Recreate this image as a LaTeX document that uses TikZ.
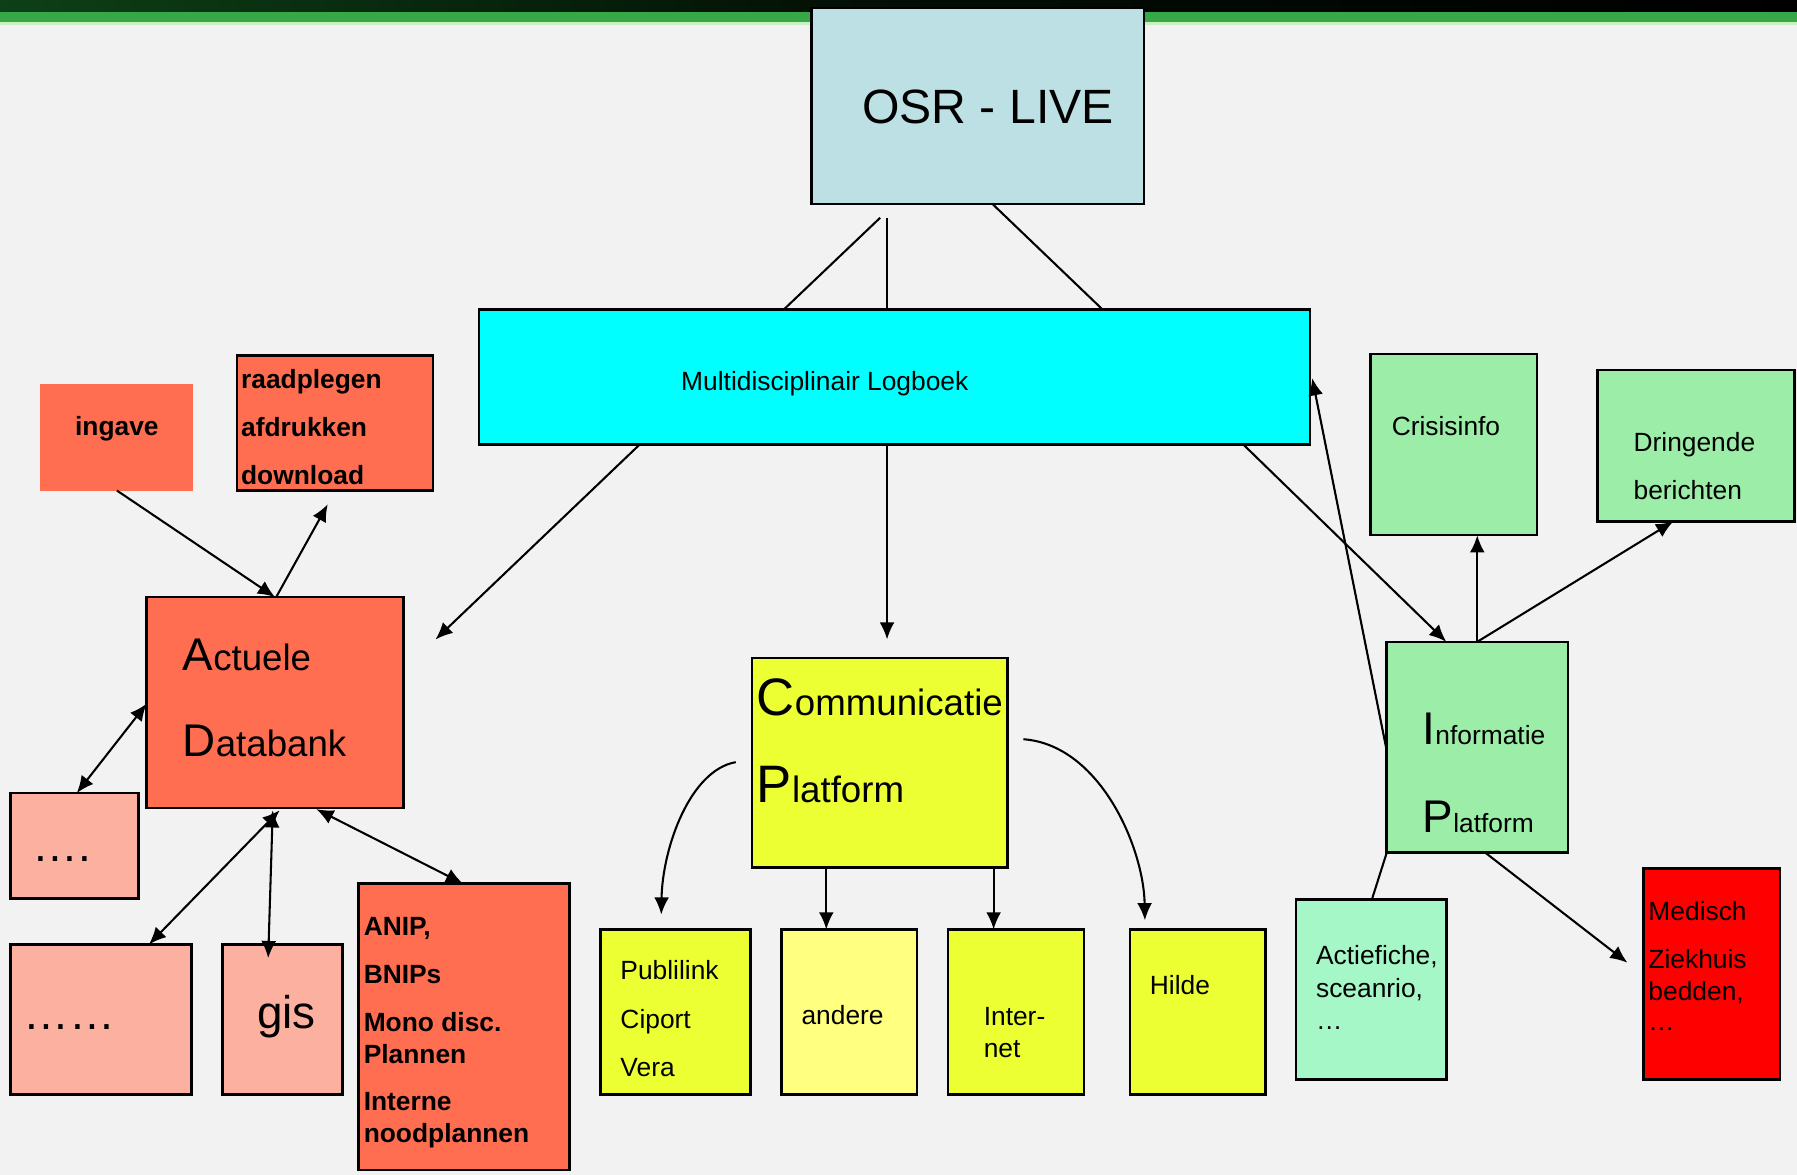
\documentclass[tikz,border=0pt]{standalone}
\usepackage{fontspec}
\setmainfont{Liberation Sans}
\usetikzlibrary{arrows.meta,calc}
\definecolor{bg}{HTML}{F2F2F2}
\definecolor{cosr}{HTML}{BCE0E3}
\definecolor{ccyan}{HTML}{00FFFF}
\definecolor{ctom}{HTML}{FF6E50}
\definecolor{csal}{HTML}{FCB0A0}
\definecolor{cyel}{HTML}{EBFF33}
\definecolor{cyel2}{HTML}{FFFF80}
\definecolor{cgrn}{HTML}{9CEDA8}
\definecolor{cmint}{HTML}{A6F7C8}
\definecolor{cred}{HTML}{FF0000}
\definecolor{dk}{HTML}{0D4016}
\definecolor{gband}{HTML}{36A848}
\definecolor{gline}{HTML}{C8F0C0}
\begin{document}
\begin{tikzpicture}[x=0.5pt,y=-0.5pt,
  box/.style={draw=black,line width=1.1pt,anchor=north west,inner sep=0pt,outer sep=0pt},
  lbl/.style={anchor=base west,inner sep=0pt,font=\fontsize{11.5}{13.8}\selectfont},
  blbl/.style={lbl,font=\fontsize{11.5}{13.8}\selectfont\bfseries},
  con/.style={line width=0.9pt},
  arr/.style={con,-{Latex[length=7.5pt,width=6.5pt]}},
  darr/.style={con,{Latex[length=7.5pt,width=6.5pt]}-{Latex[length=7.5pt,width=6.5pt]}}]
\useasboundingbox (0,0) rectangle (1568,1025);
\fill[bg] (0,0) rectangle (1568,1025);
\shade[left color=dk,right color=black,middle color=black!80!dk] (0,0) rectangle (1568,10.5);
\fill[gband] (0,10.5) rectangle (1568,19.5);
\fill[gline] (0,19.5) rectangle (1568,22);

% boxes
\node[box,fill=cosr,minimum width=145pt,minimum height=85.5pt] (osr) at (708,7) {};
\node[box,fill=ccyan,minimum width=362.5pt,minimum height=59pt] (lb) at (418,270) {};
\node[box,fill=ctom,minimum width=112pt,minimum height=92pt] (db) at (128,521) {};
\node[box,draw=none,fill=ctom,minimum width=66.5pt,minimum height=46.5pt] (ingave) at (35,335) {};
\node[box,fill=ctom,minimum width=85.5pt,minimum height=59pt] (raad) at (207,310) {};
\node[box,fill=csal,minimum width=56pt,minimum height=46pt] (dots4) at (9,692) {};
\node[box,fill=csal,minimum width=79pt,minimum height=65.5pt] (dots6) at (9,824) {};
\node[box,fill=csal,minimum width=52.5pt,minimum height=65.5pt] (gis) at (194,824) {};
\node[box,fill=ctom,minimum width=92pt,minimum height=125pt] (anip) at (313,771) {};
\node[box,fill=cyel,minimum width=111.5pt,minimum height=91.5pt] (cp) at (656,574) {};
\node[box,fill=cyel,minimum width=65.5pt,minimum height=72pt] (publ) at (524,811) {};
\node[box,fill=cyel2,minimum width=59pt,minimum height=72pt] (andere) at (682,811) {};
\node[box,fill=cyel,minimum width=59.5pt,minimum height=72pt] (inet) at (827,811) {};
\node[box,fill=cyel,minimum width=59pt,minimum height=72pt] (hilde) at (986,811) {};
\node[box,fill=cgrn,minimum width=79pt,minimum height=92pt] (ip) at (1210,560) {};
\node[box,fill=cgrn,minimum width=72.5pt,minimum height=79pt] (crisis) at (1196,309) {};
\node[box,fill=cgrn,minimum width=86pt,minimum height=66pt] (dring) at (1394,323) {};
\node[box,fill=cmint,minimum width=65.5pt,minimum height=78.5pt] (actie) at (1131,785) {};
\node[box,fill=cred,minimum width=59.5pt,minimum height=92pt] (med) at (1434,758) {};

% texts
\node[lbl,font=\fontsize{21}{25}\selectfont] (osrt) at (752,108) {OSR - LIVE};
\node[lbl] (lbt) at (594,341) {Multidisciplinair Logboek};
\node[blbl,anchor=base] (ingt) at (102,380) {ingave};
\node[blbl] (raad1) at (210,339) {raadplegen};
\node[blbl] (raad2) at (210,381) {afdrukken};
\node[blbl] (raad3) at (210,423) {download};
\node[lbl,font=\fontsize{16}{19}\selectfont] (db1) at (159,585) {{\fontsize{20}{20}\selectfont A}ctuele};
\node[lbl,font=\fontsize{16}{19}\selectfont] (db2) at (159,660) {{\fontsize{20}{20}\selectfont D}atabank};
\node[lbl,font=\fontsize{20}{24}\selectfont] (d4t) at (28,752) {….};
\node[lbl,font=\fontsize{20}{24}\selectfont] (d6t) at (20,898) {……};
\node[lbl,font=\fontsize{20}{24}\selectfont] (gist) at (224,897) {gis};
\node[blbl] (an1) at (317,816) {ANIP,};
\node[blbl] (an2) at (317,858) {BNIPs};
\node[blbl] (an3) at (317,900) {Mono disc.};
\node[blbl] (an4) at (317,928) {Plannen};
\node[blbl] (an5) at (317,969) {Interne};
\node[blbl] (an6) at (317,997) {noodplannen};
\node[lbl,font=\fontsize{16}{19}\selectfont] (cp1) at (660,624) {{\fontsize{23}{23}\selectfont C}ommunicatie};
\node[lbl,font=\fontsize{16}{19}\selectfont] (cp2) at (660,700) {{\fontsize{23}{23}\selectfont P}latform};
\node[lbl] (pu1) at (541,855) {Publilink};
\node[lbl] (pu2) at (541,897) {Ciport};
\node[lbl] (pu3) at (541,939) {Vera};
\node[lbl] (andt) at (699,894) {andere};
\node[lbl] (in1) at (858,895) {Inter-};
\node[lbl] (in2) at (858,923) {net};
\node[lbl] (hit) at (1003,868) {Hilde};
\node[lbl] (ip1) at (1241,650) {{\fontsize{20}{20}\selectfont I}nformatie};
\node[lbl] (ip2) at (1241,726) {{\fontsize{20}{20}\selectfont P}latform};
\node[lbl] (crt) at (1214,380) {Crisisinfo};
\node[lbl] (dr1) at (1425,394) {Dringende};
\node[lbl] (dr2) at (1425,436) {berichten};
\node[lbl] (ac1) at (1148,842) {Actiefiche,};
\node[lbl] (ac2) at (1148,870) {sceanrio,};
\node[lbl] (ac3) at (1148,898) {…};
\node[lbl] (me1) at (1438,803) {Medisch};
\node[lbl] (me2) at (1438,845) {Ziekhuis};
\node[lbl] (me3) at (1438,873) {bedden,};
\node[lbl] (me4) at (1438,899) {…};

% free ends
\coordinate (o1) at ($(osr.south west)+(60,12)$);
\coordinate (o2) at ($(osr.south west)+(66,12)$);
\coordinate (dbend) at (380,558);
\coordinate (cpend) at (774,558);
\coordinate (raadend) at (286,440);
\coordinate (gisend) at (234,836);
\coordinate (medend) at (1420,840);
\coordinate (publend) at (577,798);
\coordinate (hildend) at (999,803);
\coordinate (cpl) at (642,665);
\coordinate (cpr) at (893,645);

% connectors
\draw[con] (o1) -- ($(lb.north west)+(266,0)$);
\draw[con] (o2) -- ($(lb.north west)+(356,0)$);
\draw[con] ($(osr.south west)+(158,0)$) -- ($(lb.north west)+(544,0)$);
\draw[arr] ($(lb.south west)+(140,0)$) -- (dbend);
\draw[arr] ($(lb.south west)+(356,0)$) -- (cpend);
\draw[arr] ($(lb.south west)+(667,0)$) -- ($(ip.north west)+(52,0)$);
\draw[arr] ($(ip.north west)+(0,95)$) -- ($(lb.north east)+(2,60)$);
\draw[arr] ($(ingave.south west)+(67,0)$) -- ($(db.north west)+(112,0)$);
\draw[arr] ($(db.north west)+(113,0)$) -- (raadend);
\draw[darr] ($(db.north west)+(0,93)$) -- ($(dots4.north west)+(58,0)$);
\draw[darr] ($(db.south west)+(116,2)$) -- ($(dots6.north west)+(121,0)$);
\draw[darr] ($(db.south west)+(110,2)$) -- (gisend);
\draw[darr] ($(db.south west)+(148,1)$) -- ($(anip.north west)+(91,0)$);
\draw[arr] (cpl) .. controls (602,672) and (578,740) .. (publend);
\draw[arr] (cpr) .. controls (960,650) and (998,740) .. (hildend);
\draw[arr] ($(cp.south west)+(65,0)$) -- (andere.north west -| {$(cp.south west)+(65,0)$});
\draw[arr] ($(cp.south west)+(211,0)$) -- (inet.north west -| {$(cp.south west)+(211,0)$});
\draw[arr] ($(ip.north west)+(79,0)$) -- ($(crisis.south west)+(93,0)$);
\draw[arr] ($(ip.north west)+(79,0)$) -- ($(dring.south west)+(66,0)$);
\draw[con] (ip.south west) -- ($(actie.north west)+(66,0)$);
\draw[arr] ($(ip.south west)+(86,0)$) -- (medend);
\end{tikzpicture}
\end{document}
